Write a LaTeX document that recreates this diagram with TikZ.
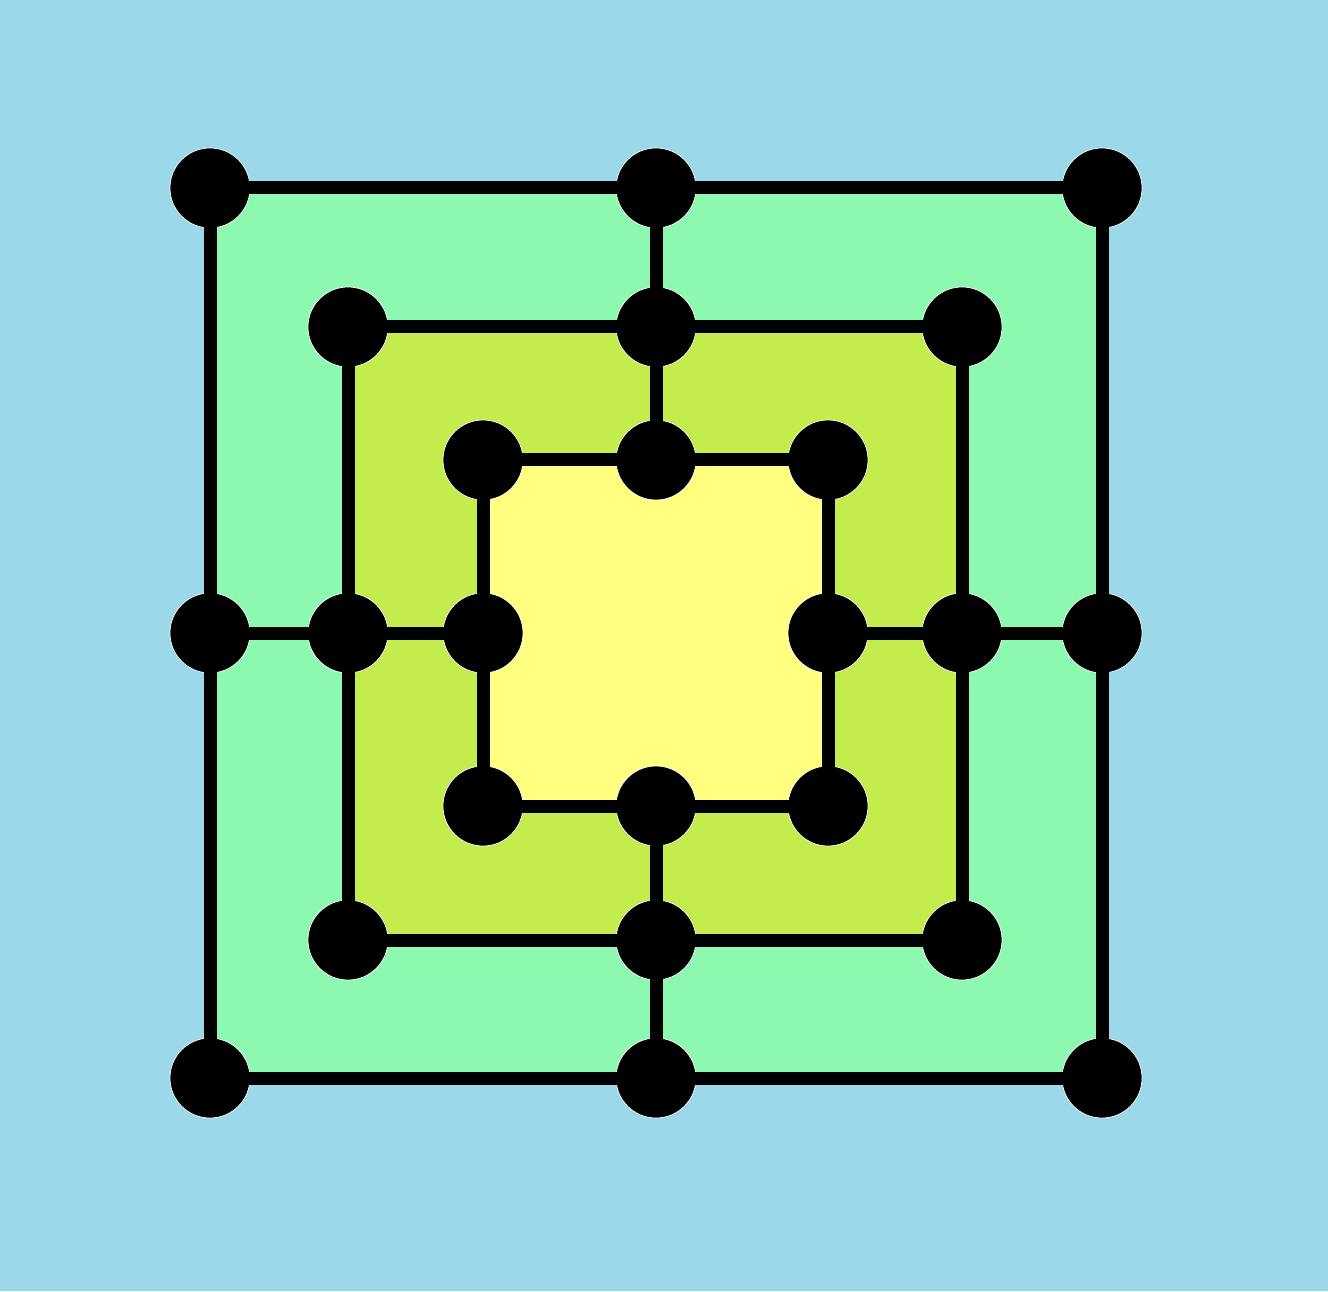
\documentclass[tikz,border=0pt]{standalone}
\usepackage{xcolor}
\usepackage{tikz}
\usetikzlibrary{backgrounds}

\definecolor{skyblue}{HTML}{9BD8EA}
\definecolor{ringouter}{HTML}{8CF8B0}
\definecolor{ringmiddle}{HTML}{C4EC4C}
\definecolor{ringinner}{HTML}{FFFF80}

\begin{document}
\begin{tikzpicture}[
    spot/.style={circle, fill=black, draw=white, line width=0.4pt, minimum size=1.6cm, inner sep=0pt},
    wire/.style={line width=0.26cm, black},
]
\useasboundingbox (0,0) rectangle (26.56,25.82);

% outer square
\node[spot] (onw) at (4.20,22.06) {};
\node[spot] (on)  at (13.12,22.06) {};
\node[spot] (one) at (22.04,22.06) {};
\node[spot] (oe)  at (22.04,13.16) {};
\node[spot] (ose) at (22.04,4.26) {};
\node[spot] (os)  at (13.12,4.26) {};
\node[spot] (osw) at (4.20,4.26) {};
\node[spot] (ow)  at (4.20,13.16) {};

% middle square
\node[spot] (mnw) at (6.96,19.28) {};
\node[spot] (mn)  at (13.12,19.28) {};
\node[spot] (mne) at (19.24,19.28) {};
\node[spot] (me)  at (19.24,13.16) {};
\node[spot] (mse) at (19.24,7.02) {};
\node[spot] (ms)  at (13.12,7.02) {};
\node[spot] (msw) at (6.96,7.02) {};
\node[spot] (mw)  at (6.96,13.16) {};

% inner square
\node[spot] (inw) at (9.66,16.62) {};
\node[spot] (in)  at (13.12,16.62) {};
\node[spot] (ine) at (16.56,16.62) {};
\node[spot] (ie)  at (16.56,13.16) {};
\node[spot] (ise) at (16.56,9.70) {};
\node[spot] (is)  at (13.12,9.70) {};
\node[spot] (isw) at (9.66,9.70) {};
\node[spot] (iw)  at (9.66,13.16) {};

\begin{scope}[on background layer]
\fill[skyblue] (0,0) rectangle (26.56,25.82);
\fill[ringouter] (osw.center) rectangle (one.center);
\fill[ringmiddle] (msw.center) rectangle (mne.center);
\fill[ringinner] (isw.center) rectangle (ine.center);
\end{scope}

\draw[wire] (onw.center) -- (one.center) -- (ose.center) -- (osw.center) -- cycle;
\draw[wire] (mnw.center) -- (mne.center) -- (mse.center) -- (msw.center) -- cycle;
\draw[wire] (inw.center) -- (ine.center) -- (ise.center) -- (isw.center) -- cycle;
\draw[wire] (on.center) -- (in.center);
\draw[wire] (os.center) -- (is.center);
\draw[wire] (ow.center) -- (iw.center);
\draw[wire] (oe.center) -- (ie.center);
\end{tikzpicture}
\end{document}
